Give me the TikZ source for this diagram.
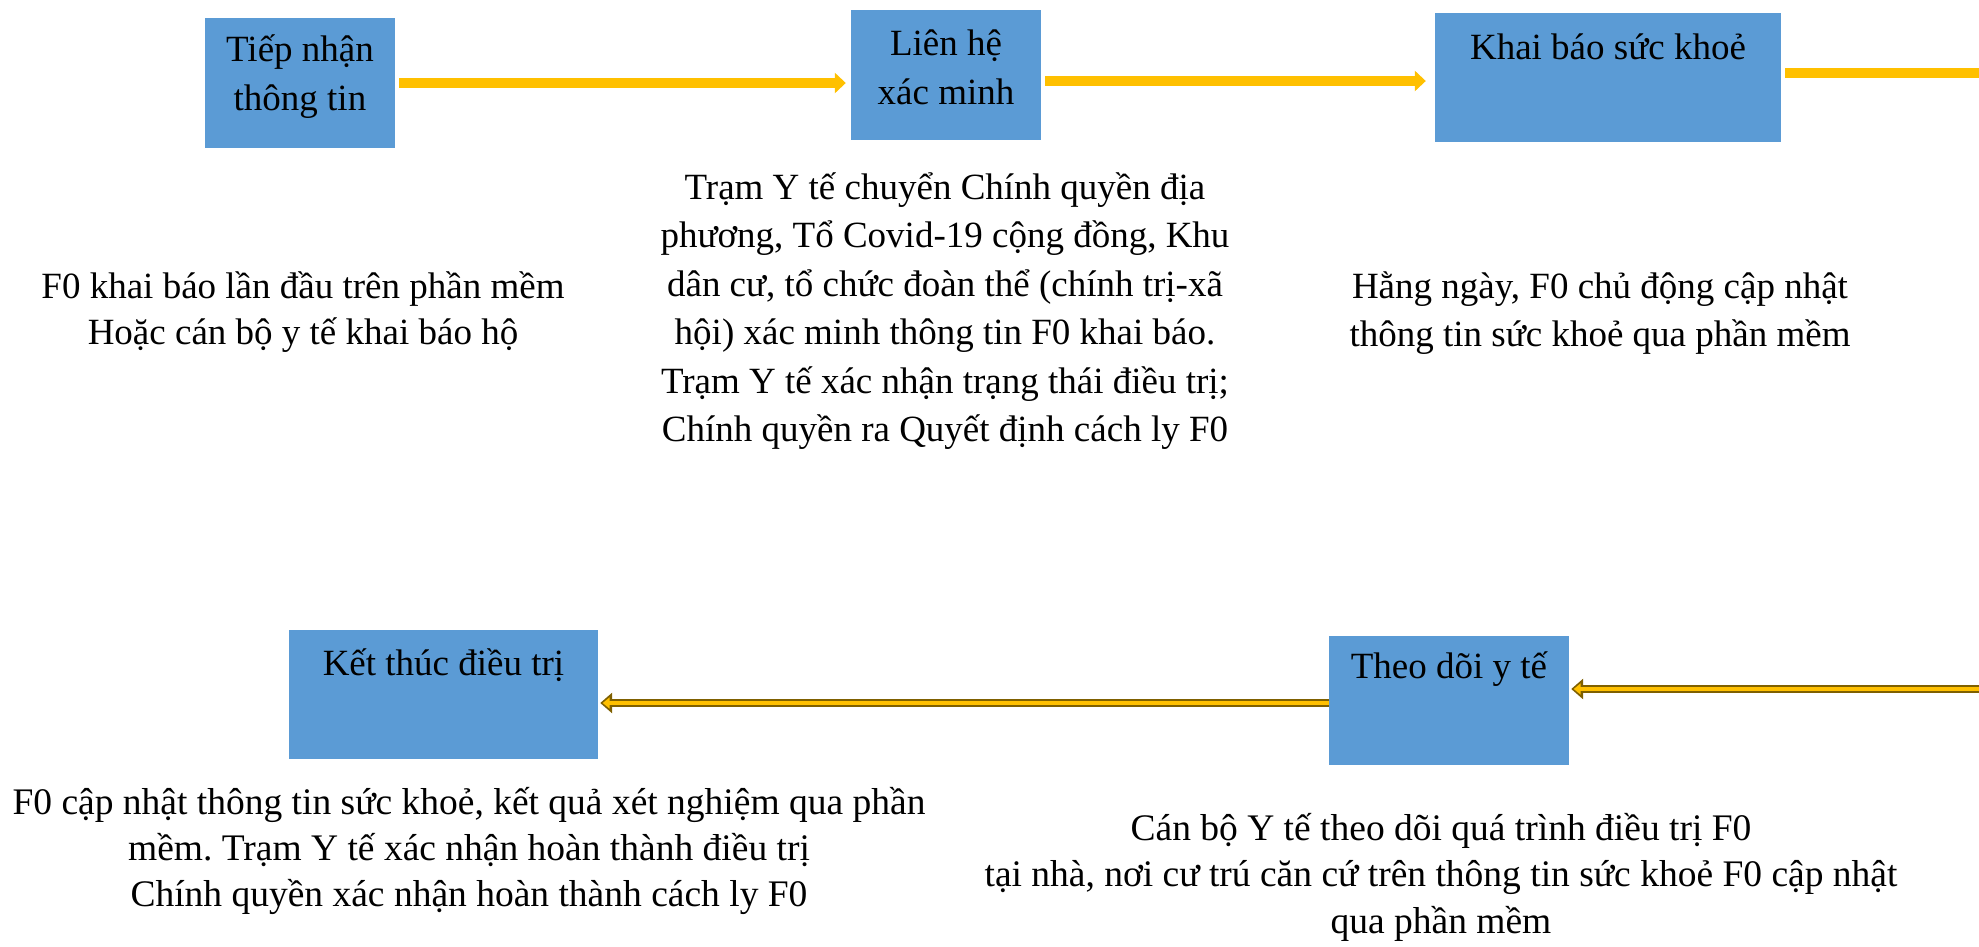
\documentclass[tikz,border=0pt]{standalone}
\usepackage{fontspec}
\setmainfont{Liberation Serif}
\usetikzlibrary{arrows.meta}
\frenchspacing
\definecolor{boxblue}{HTML}{5B9BD5}
\definecolor{arrowgold}{HTML}{FFC000}
\definecolor{darkgold}{HTML}{7F6000}
\tikzset{
  stepbox/.style={fill=boxblue, draw=none, inner sep=0pt},
  boxtext/.style={align=center, inner sep=0pt, font=\fontsize{37}{49}\selectfont},
  desc/.style={align=center, inner sep=0pt, font=\fontsize{37}{48}\selectfont},
  flowarrow/.style={draw=arrowgold, line width=10pt, -{Triangle[length=11pt,width=20pt]}},
  flowline/.style={draw=arrowgold, line width=10pt},
  backouter/.style={draw=darkgold, line width=8pt, -{Triangle[length=12pt,width=20pt]}},
  backinner/.style={draw=arrowgold, line width=3.5pt, -{Triangle[length=7pt,width=11pt]}},
}
\begin{document}
\begin{tikzpicture}[x=1pt,y=-1pt]
\useasboundingbox (0,0) rectangle (1979,946);
% boxes
\node[stepbox, minimum width=190pt, minimum height=130pt] (b1) at (300,83) {};
\node[stepbox, minimum width=190pt, minimum height=130pt] (b2) at (946,75) {};
\node[stepbox, minimum width=346pt, minimum height=129pt] (b3) at (1608,77.5) {};
\node[stepbox, minimum width=309pt, minimum height=129pt] (b4) at (443.5,694.5) {};
\node[stepbox, minimum width=240pt, minimum height=129pt] (b5) at (1449,700.5) {};
% box texts
\node[boxtext] (t1) at (300,77) {Tiếp nhận\\thông tin};
\node[boxtext] (t2) at (946,67) {Liên hệ\\xác minh};
\node[boxtext] (t3) at (1608,47) {Khai báo sức khoẻ};
\node[boxtext] (t4) at (443.5,665) {Kết thúc điều trị};
\node[boxtext] (t5) at (1449,669) {Theo dõi y tế};
% descriptions
\node[desc, font=\fontsize{37}{45.8}\selectfont] (d1) at (303,312) {F0 khai báo lần đầu trên phần mềm\\Hoặc cán bộ y tế khai báo hộ};
\node[desc, font=\fontsize{37}{48.5}\selectfont] (d2) at (945,311) {Trạm Y tế chuyển Chính quyền địa\\phương, Tổ Covid-19 cộng đồng, Khu\\dân cư, tổ chức đoàn thể (chính trị-xã\\hội) xác minh thông tin F0 khai báo.\\Trạm Y tế xác nhận trạng thái điều trị;\\Chính quyền ra Quyết định cách ly F0};
\node[desc] (d3) at (1600,313) {Hằng ngày, F0 chủ động cập nhật\\thông tin sức khoẻ qua phần mềm};
\node[desc, font=\fontsize{37.5}{46}\selectfont] (d4) at (469,851) {F0 cập nhật thông tin sức khoẻ, kết quả xét nghiệm qua phần\\mềm. Trạm Y tế xác nhận hoàn thành điều trị\\Chính quyền xác nhận hoàn thành cách ly F0};
\node[desc, font=\fontsize{37.5}{46.5}\selectfont] (d5) at (1441,877) {Cán bộ Y tế theo dõi quá trình điều trị F0\\tại nhà, nơi cư trú căn cứ trên thông tin sức khoẻ F0 cập nhật\\qua phần mềm};
% arrow levels
\coordinate (y1) at (0,83);
\coordinate (y2) at (0,81);
\coordinate (y3) at (0,73);
\coordinate (e3) at (1979,73);
\coordinate (y4) at (0,703);
\coordinate (s5) at (1979,689);
% top arrows
\draw[flowarrow] ([xshift=4pt]b1.east |- y1) -- ([xshift=-5pt]b2.west |- y1);
\draw[flowarrow] ([xshift=4pt]b2.east |- y2) -- ([xshift=-9pt]b3.west |- y2);
\draw[flowline] ([xshift=4pt]b3.east |- y3) -- (e3);
% bottom arrows
\draw[backouter] (s5) -- ([xshift=2pt]b5.east |- s5);
\draw[backinner] (s5) -- ([xshift=4.5pt]b5.east |- s5);
\draw[backouter] (b5.west |- y4) -- ([xshift=2pt]b4.east |- y4);
\draw[backinner] (b5.west |- y4) -- ([xshift=4.5pt]b4.east |- y4);
\end{tikzpicture}
\end{document}
